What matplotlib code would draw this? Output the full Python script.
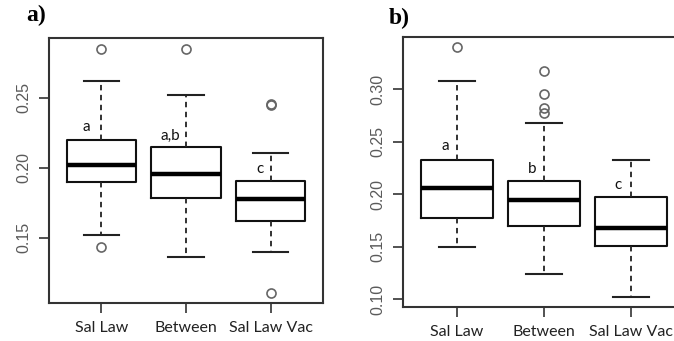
import matplotlib
matplotlib.use("Agg")
import matplotlib.pyplot as plt

categories = ["Sal Law", "Between", "Sal Law Vac"]

# Panel a
a_whislo = [0.1517, 0.1362, 0.1398]
a_q1 = [0.1898, 0.1781, 0.1619]
a_med = [0.2017, 0.1957, 0.1774]
a_q3 = [0.2200, 0.2150, 0.1902]
a_whishi = [0.2619, 0.2519, 0.2105]
a_fliers = [[0.2845, 0.1433], [0.2848], [0.2457, 0.2450, 0.1105]]
a_letters = ["a", "a,b", "c"]
a_letter_y = [0.2288, 0.2226, 0.1988]
a_yticks = [0.15, 0.20, 0.25]

# Panel b
b_whislo = [0.1497, 0.1244, 0.1019]
b_q1 = [0.1769, 0.1696, 0.1503]
b_med = [0.2054, 0.1943, 0.1680]
b_q3 = [0.2326, 0.2123, 0.1972]
b_whishi = [0.3073, 0.2674, 0.2326]
b_fliers = [[0.3402], [0.3171, 0.2956, 0.2823, 0.2775], []]
b_letters = ["a", "b", "c"]
b_letter_y = [0.2462, 0.2237, 0.2089]
b_yticks = [0.10, 0.15, 0.20, 0.25, 0.30]

fig = plt.figure(figsize=(6.74, 3.41), dpi=100)
ax_a = fig.add_axes([0.0727, 0.1114, 0.4065, 0.7772])
ax_b = fig.add_axes([0.598, 0.0997, 0.418, 0.7925])

spine_c = "#333333"

def draw(ax, wlo, q1, med, q3, whi, fl, letters, ly, yticks, ylim, lx_off):
    stats = []
    for i in range(len(categories)):
        stats.append(dict(whislo=wlo[i], q1=q1[i], med=med[i], q3=q3[i],
                          whishi=whi[i], fliers=fl[i], label=categories[i]))
    ax.bxp(stats, positions=[1, 2, 3], widths=0.82, capwidths=0.42,
           boxprops=dict(color="#111111", linewidth=1.5),
           medianprops=dict(color="black", linewidth=3.2),
           whiskerprops=dict(color="#222222", linewidth=1.3, linestyle=(0, (3, 2.5))),
           capprops=dict(color="#222222", linewidth=1.5),
           flierprops=dict(marker="o", markerfacecolor="none",
                           markeredgecolor="#666666", markersize=6.5,
                           markeredgewidth=1.2))
    ax.set_xlim(0.38, 3.62)
    ax.set_ylim(*ylim)
    ax.set_yticks(yticks)
    ax.set_yticklabels([f"{t:.2f}" for t in yticks], rotation=90, va="center",
                       fontfamily="Liberation Sans", fontsize=11.5, color="#5a5a5a")
    ax.set_xticks([1, 2, 3])
    ax.set_xticklabels(categories, fontfamily="Lato", fontsize=11.5, color="#222222")
    ax.tick_params(axis="both", direction="out", length=7, width=1.2,
                   color="#333333", pad=6)
    for s in ax.spines.values():
        s.set_color(spine_c)
        s.set_linewidth(1.5)
    for i, (t, y) in enumerate(zip(letters, ly)):
        ax.text(i + 1 + lx_off[i], y, t, ha="center", va="center",
                fontfamily="Lato", fontsize=11, color="#111111")

draw(ax_a, a_whislo, a_q1, a_med, a_q3, a_whishi, a_fliers, a_letters,
     a_letter_y, a_yticks, (0.1034, 0.2926), [-0.18, -0.19, -0.12])
draw(ax_b, b_whislo, b_q1, b_med, b_q3, b_whishi, b_fliers, b_letters,
     b_letter_y, b_yticks, (0.0927, 0.3497), [-0.13, -0.135, -0.15])
ax_b.spines["right"].set_visible(False)

fig.text(0.054, 0.955, "a)", fontfamily="Liberation Serif", fontweight="bold",
         fontsize=17, va="center", ha="center")
fig.text(0.593, 0.945, "b)", fontfamily="Liberation Serif", fontweight="bold",
         fontsize=17, va="center", ha="center")

fig.savefig("out.png", dpi=100)
